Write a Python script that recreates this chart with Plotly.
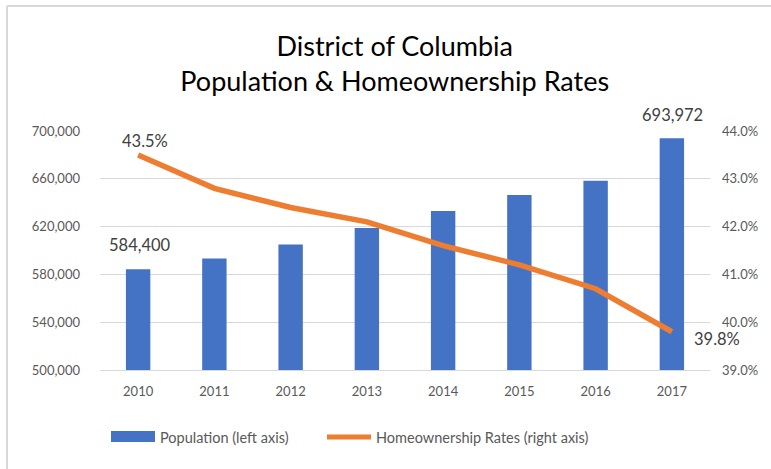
import plotly.graph_objects as go

years = [2010, 2011, 2012, 2013, 2014, 2015, 2016, 2017]
population = [584400, 593300, 605000, 618900, 633100, 646400, 658300, 693972]
homeownership = [43.5, 42.8, 42.4, 42.1, 41.6, 41.2, 40.7, 39.8]
left_ticks = [500000, 540000, 580000, 620000, 660000, 700000]
right_ticks = [39.0, 40.0, 41.0, 42.0, 43.0, 44.0]

FONT = "Lato, Open Sans, sans-serif"
BLUE = "#4472C4"
ORANGE = "#ED7D31"

fig = go.Figure()
fig.add_trace(go.Bar(
    x=years, y=population, marker=dict(color=BLUE, line=dict(width=0)), width=0.32,
    name="Population (left axis)", showlegend=False, hoverinfo="skip",
))
fig.add_trace(go.Scatter(
    x=years, y=homeownership, yaxis="y2", mode="lines",
    line=dict(color=ORANGE, width=5.5), name="Homeownership Rates (right axis)",
    showlegend=False, hoverinfo="skip",
))

# data labels
lab_font = dict(family=FONT, size=16.5, color="#404040")
fig.add_annotation(x=years[0], y=population[0], text=f"{population[0]:,}", showarrow=False,
                   xshift=2, yshift=12, font=lab_font, xref="x", yref="y", xanchor="center", yanchor="bottom")
fig.add_annotation(x=years[-1], y=population[-1], text=f"{population[-1]:,}", showarrow=False,
                   xshift=1, yshift=11, font=lab_font, xref="x", yref="y", yanchor="bottom")
fig.add_annotation(x=years[0], y=homeownership[0], text=f"{homeownership[0]:.1f}%", showarrow=False,
                   xshift=7, yshift=2, font=lab_font, xref="x", yref="y2", yanchor="bottom")
fig.add_annotation(x=years[-1], y=homeownership[-1], text=f"{homeownership[-1]:.1f}%", showarrow=False,
                   xshift=20, yshift=-7, font=lab_font, xref="x", yref="y2", xanchor="left", yanchor="middle")

tick_font = dict(family=FONT, size=13, color="#595959")
fig.update_layout(
    width=771, height=469,
    margin=dict(l=100, r=61, t=131, b=99),
    paper_bgcolor="white", plot_bgcolor="white",
    title=dict(text="District of Columbia<br>Population & Homeownership Rates",
               x=0.512, xanchor="center", y=0.88, yanchor="middle",
               font=dict(family=FONT, size=27, color="#000000")),
    xaxis=dict(range=[years[0] - 0.5, years[-1] + 0.5], tickvals=years,
               ticktext=[str(y) for y in years], tickfont=tick_font, showgrid=False, ticks="",
               showline=True, linecolor="#d9d9d9", linewidth=1, zeroline=False,
               ticklabelstandoff=9),
    yaxis=dict(range=[500000, 700000], tickvals=left_ticks,
               ticktext=[f"{v:,}" for v in left_ticks], tickfont=tick_font,
               showgrid=True, gridcolor="#d9d9d9", gridwidth=1.3, zeroline=False,
               ticks="", ticklabelstandoff=19),
    yaxis2=dict(range=[39, 44], tickvals=right_ticks, overlaying="y", side="right",
                ticktext=[f"{v:.1f}%" for v in right_ticks], tickfont=tick_font,
                showgrid=False, zeroline=False, ticks="", ticklabelstandoff=11),
    showlegend=False,
)

def px_x(p):
    return (p - 100) / 610
def px_y(p):
    return (370 - p) / 239

# chart frame (left and top edges visible)
frame = dict(color="#d9d9d9", width=2)
fig.add_shape(type="line", xref="paper", yref="paper", x0=px_x(7), x1=px_x(7),
              y0=px_y(6), y1=px_y(480), line=frame)
fig.add_shape(type="line", xref="paper", yref="paper", x0=px_x(7), x1=px_x(800),
              y0=px_y(6), y1=px_y(6), line=frame)

# legend (manual)
leg_font = dict(family=FONT, size=14.5, color="#595959")
fig.add_shape(type="rect", xref="paper", yref="paper", x0=px_x(111), x1=px_x(155),
              y0=px_y(442), y1=px_y(431), fillcolor=BLUE, line=dict(width=0))
fig.add_annotation(xref="paper", yref="paper", x=px_x(158), y=px_y(437), text="Population (left axis)",
                   showarrow=False, xanchor="left", yanchor="middle", font=leg_font)
fig.add_shape(type="line", xref="paper", yref="paper", x0=px_x(327), x1=px_x(371),
              y0=px_y(437), y1=px_y(437), line=dict(color=ORANGE, width=5))
fig.add_annotation(xref="paper", yref="paper", x=px_x(374), y=px_y(437),
                   text="Homeownership Rates (right axis)",
                   showarrow=False, xanchor="left", yanchor="middle", font=leg_font)

fig.write_html("out.html")
